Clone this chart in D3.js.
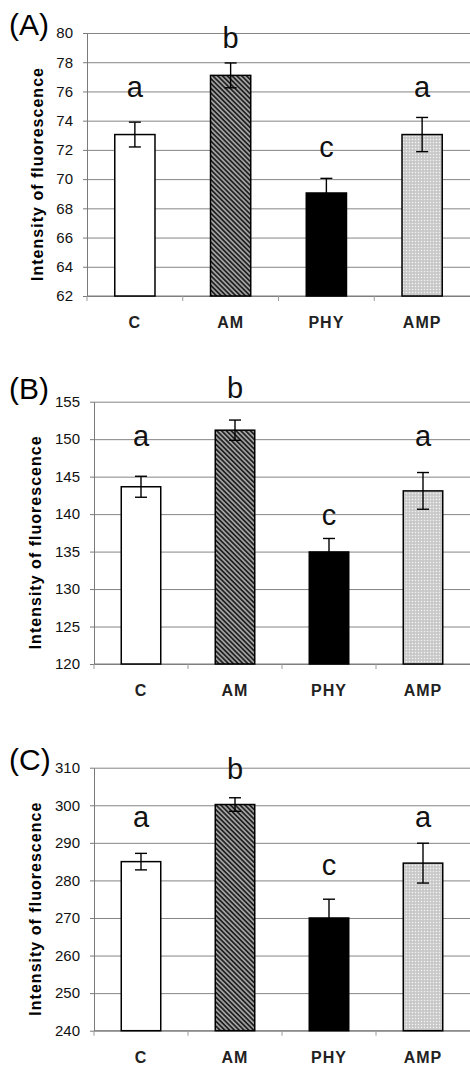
<!DOCTYPE html>
<meta charset="utf-8">
<head>
    <title>Intensity of fluorescence</title>
    <script src="https://cdn.jsdelivr.net/npm/d3@7/dist/d3.min.js"></script>
</head>

<style>
    body { margin: 0; background: #fff; }
    svg { display: block; font-family: "Liberation Sans", Arial, sans-serif; }
    .grid line { stroke: #858585; stroke-width: 1; }
    .grid .domain { display: none; }
    .yaxis .domain, .yaxis line { stroke: #7a7a7a; }
    .yaxis text { font-size: 15px; fill: #111; }
    .xaxis .domain { display: none; }
    .xaxis text { font-size: 16px; font-weight: bold; fill: #222; letter-spacing: 1px; }
</style>

<body></body>

<script>
    // categories and letters shared by the three panels
    var categories = ["C", "AM", "PHY", "AMP"];
    var letters = ["a", "b", "c", "a"];

    // (A)
    var meansA = [73.05, 77.1, 69.05, 73.05];
    var errA = [0.85, 0.85, 1.0, 1.17];
    var letterA = [75.6, 79.0, 71.5, 75.6];
    var ticksA = [62, 64, 66, 68, 70, 72, 74, 76, 78, 80];

    // (B)
    var meansB = [143.65, 151.2, 134.95, 143.1];
    var errB = [1.4, 1.35, 1.8, 2.45];
    var letterB = [149.1, 155.5, 138.55, 149.1];
    var ticksB = [120, 125, 130, 135, 140, 145, 150, 155];

    // (C)
    var meansC = [285, 300.2, 270, 284.6];
    var errC = [2.2, 1.8, 5.0, 5.3];
    var letterC = [294.2, 307.0, 281.4, 294.2];
    var ticksC = [240, 250, 260, 270, 280, 290, 300, 310];

    var fills = ["#fff", "url(#hatch)", "#000", "url(#dots)"];

    var panels = [
        {name: "(A)", means: meansA, errs: errA, lab: letterA, ticks: ticksA, x0: 87, top: 33, bottom: 296, titleY: 35, ylabX: 43},
        {name: "(B)", means: meansB, errs: errB, lab: letterB, ticks: ticksB, x0: 94, top: 401.7, bottom: 664, titleY: 399, ylabX: 41},
        {name: "(C)", means: meansC, errs: errC, lab: letterC, ticks: ticksC, x0: 94, top: 767.7, bottom: 1030.7, titleY: 770, ylabX: 41}
    ];

    var svg = d3.select("body").append("svg")
        .attr("width", 470)
        .attr("height", 1067);

    var defs = svg.append("defs");

    var hatch = defs.append("pattern")
        .attr("id", "hatch")
        .attr("patternUnits", "userSpaceOnUse")
        .attr("width", 3.4).attr("height", 3.4)
        .attr("patternTransform", "rotate(45)");
    hatch.append("rect").attr("width", 3.4).attr("height", 3.4).attr("fill", "#a0a0a0");
    hatch.append("line").attr("x1", 0).attr("x2", 3.4).attr("y1", 1.7).attr("y2", 1.7)
        .attr("stroke", "#222").attr("stroke-width", 1.7);

    var dots = defs.append("pattern")
        .attr("id", "dots")
        .attr("patternUnits", "userSpaceOnUse")
        .attr("width", 3).attr("height", 3);
    dots.append("rect").attr("width", 3).attr("height", 3).attr("fill", "#c6c6c6");
    dots.append("rect").attr("x", 0.8).attr("y", 0.8).attr("width", 1.4).attr("height", 1.4).attr("fill", "#f4f4f4");

    panels.forEach(function (p) {
        var g = svg.append("g");
        var right = 470;

        var x = d3.scaleBand()
            .domain(categories)
            .range([p.x0, right])
            .paddingInner(0.58)
            .paddingOuter(0.29);

        var y = d3.scaleLinear()
            .domain([p.ticks[0], p.ticks[p.ticks.length - 1]])
            .range([p.bottom, p.top]);

        // gridlines
        g.append("g")
            .attr("class", "grid")
            .attr("transform", "translate(" + p.x0 + ",0)")
            .call(d3.axisLeft(y).tickValues(p.ticks).tickSize(-(right - p.x0)).tickFormat(""));

        // y axis
        g.append("g")
            .attr("class", "yaxis")
            .attr("transform", "translate(" + p.x0 + ",0)")
            .call(d3.axisLeft(y).tickValues(p.ticks).tickSize(4).tickSizeOuter(0).tickPadding(10));

        // x axis line + ticks at band boundaries
        g.append("line")
            .attr("x1", p.x0).attr("x2", right)
            .attr("y1", p.bottom).attr("y2", p.bottom)
            .attr("stroke", "#7a7a7a");
        g.selectAll(".btick").data(categories).enter()
            .append("line")
            .attr("x1", function (d) { return x(d) - x.step() * x.paddingOuter(); })
            .attr("x2", function (d) { return x(d) - x.step() * x.paddingOuter(); })
            .attr("y1", p.bottom).attr("y2", p.bottom + 5)
            .attr("stroke", "#9a9a9a");

        g.append("g")
            .attr("class", "xaxis")
            .attr("transform", "translate(0," + p.bottom + ")")
            .call(d3.axisBottom(x).tickSize(0).tickPadding(21));

        // bars
        g.selectAll(".bar").data(categories).enter()
            .append("rect")
            .attr("x", function (d) { return x(d); })
            .attr("width", x.bandwidth())
            .attr("y", function (d, i) { return y(p.means[i]); })
            .attr("height", function (d, i) { return p.bottom - y(p.means[i]); })
            .attr("fill", function (d, i) { return fills[i]; })
            .attr("stroke", "#000")
            .attr("stroke-width", 1.5);

        // error bars
        var eb = g.selectAll(".err").data(categories).enter().append("g")
            .attr("stroke", "#000").attr("stroke-width", 1.4);
        eb.append("line")
            .attr("x1", function (d) { return x(d) + x.bandwidth() / 2; })
            .attr("x2", function (d) { return x(d) + x.bandwidth() / 2; })
            .attr("y1", function (d, i) { return y(p.means[i] + p.errs[i]); })
            .attr("y2", function (d, i) { return y(p.means[i] - p.errs[i]); });
        [1, -1].forEach(function (s) {
            eb.append("line")
                .attr("x1", function (d) { return x(d) + x.bandwidth() / 2 - 6; })
                .attr("x2", function (d) { return x(d) + x.bandwidth() / 2 + 6; })
                .attr("y1", function (d, i) { return y(p.means[i] + s * p.errs[i]); })
                .attr("y2", function (d, i) { return y(p.means[i] + s * p.errs[i]); });
        });

        // significance letters
        g.selectAll(".letter").data(categories).enter()
            .append("text")
            .attr("x", function (d) { return x(d) + x.bandwidth() / 2; })
            .attr("y", function (d, i) { return y(p.lab[i]); })
            .attr("text-anchor", "middle")
            .style("font-size", "29px")
            .style("fill", "#111")
            .text(function (d, i) { return letters[i]; });

        // panel title
        g.append("text")
            .attr("x", 9).attr("y", p.titleY)
            .style("font-size", "30px")
            .text(p.name);

        // y label
        g.append("text")
            .attr("transform", "translate(" + p.ylabX + "," + ((p.top + p.bottom) / 2 + 10) + ") rotate(-90)")
            .attr("text-anchor", "middle")
            .attr("textLength", 213)
            .attr("lengthAdjust", "spacing")
            .style("font-size", "16px")
            .style("font-weight", "bold")
            .text("Intensity of fluorescence");
    });
</script>
